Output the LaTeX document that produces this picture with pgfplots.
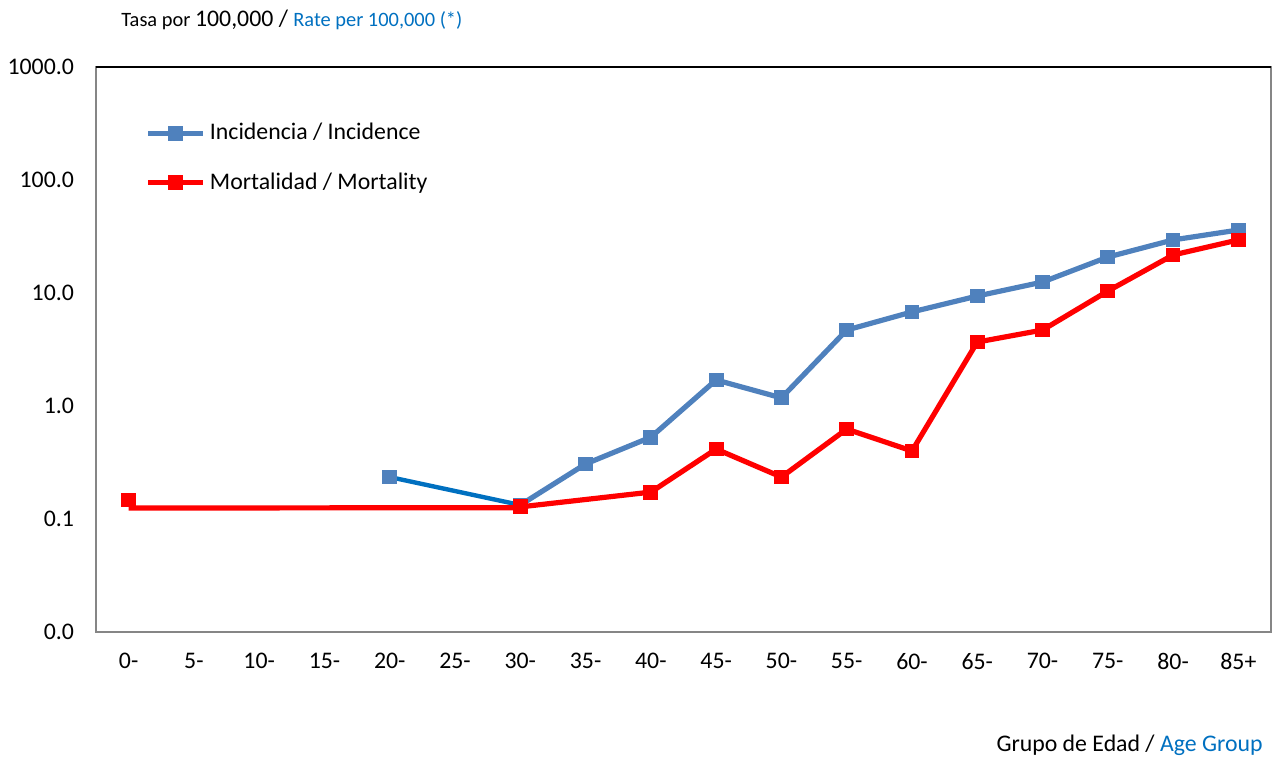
\documentclass[border=0pt]{standalone}
\usepackage{pgfplots}
\pgfplotsset{compat=1.18}
\usepackage{fontspec}
\setmainfont{Carlito}
\definecolor{incblue}{HTML}{4F81BD}
\definecolor{segblue}{HTML}{0070C0}
\definecolor{mortred}{HTML}{FF0000}
\definecolor{axgray}{HTML}{868686}
\begin{document}
\begin{tikzpicture}
\path[use as bounding box] (-48pt,-64pt) rectangle (589.5pt,316pt);
\begin{axis}[
  scale only axis,
  width=587.5pt, height=282.5pt,
  ymode=log,
  ymin=0.01, ymax=1000,
  xmin=-0.5, xmax=17.5,
  xtick={0,...,17},
  xticklabels={0-,5-,10-,15-,20-,25-,30-,35-,40-,45-,50-,55-,60-,65-,70-,75-,80-,85+},
  ytick={0.01,0.1,1,10,100,1000},
  yticklabels={0.0,0.1,1.0,10.0,100.0,1000.0},
  major tick length=0pt, minor tick length=0pt,
  minor ytick={},
  axis line style={axgray, line width=0.8pt},
  tick label style={font=\fontsize{11.9pt}{14pt}\selectfont},
  yticklabel style={xshift=-7.5pt},
  xticklabel style={yshift=-7pt},
  /pgf/number format/assume math mode=true,
  legend style={at={(0.042,0.908)}, anchor=north west, draw=none, fill=none,
    font=\fontsize{11.9pt}{14pt}\selectfont, row sep=11pt, inner sep=0pt},
  legend cell align=left,
  legend image code/.code={\draw[mark repeat=2,mark phase=2] plot coordinates {(0pt,0pt) (13.75pt,0pt) (27.5pt,0pt)};},
  clip=false,
]
% Incidence: 20- to 30- segment (darker, thinner)
\addplot[segblue, line width=2.2pt, forget plot] coordinates {(4,0.235) (6,0.133)};
\addplot[incblue, only marks, mark=square*, mark size=3.3pt, mark options={line width=0.8pt}, forget plot] coordinates {(4,0.235)};
% Incidence main
\addplot[incblue, line width=2.6pt, mark=square*, mark size=3.3pt, mark options={solid, line width=0.8pt}] coordinates {
(6,0.133) (7,0.307) (8,0.53) (9,1.70) (10,1.18) (11,4.7) (12,6.8) (13,9.4) (14,12.5) (15,20.8) (16,29.5) (17,36.1)};
\addlegendentry{Incidencia / Incidence}
% Mortality low flat part
\addplot[mortred, line width=2.6pt, forget plot] coordinates {(0,0.125) (6,0.126)};
\addplot[mortred, only marks, mark=square*, mark size=3.3pt, mark options={line width=0.8pt}, forget plot] coordinates {(0,0.147)};
% Mortality main
\addplot[mortred, line width=2.6pt, mark=square*, mark size=3.3pt, mark options={solid, line width=0.8pt}] coordinates {
(6,0.128) (8,0.173) (9,0.416) (10,0.235) (11,0.625) (12,0.40) (13,3.68) (14,4.7) (15,10.4) (16,21.7) (17,29.5)};
\addlegendentry{Mortalidad / Mortality}
\draw[black, line width=1.2pt] (rel axis cs:0,1) -- (rel axis cs:1,1);
\end{axis}
\node[anchor=west, inner sep=0pt] at (12.5pt,306pt) {{\fontsize{10.2pt}{12pt}\selectfont Tasa por }{\fontsize{11.9pt}{14pt}\selectfont 100,000 / }{\fontsize{10.2pt}{12pt}\selectfont\color{segblue}Rate per 100,000 (*)}};
\node[anchor=east, inner sep=0pt] at (583.5pt,-56.5pt) {\fontsize{11.9pt}{14pt}\selectfont Grupo de Edad / \textcolor{segblue}{Age Group}};
\end{tikzpicture}
\end{document}
